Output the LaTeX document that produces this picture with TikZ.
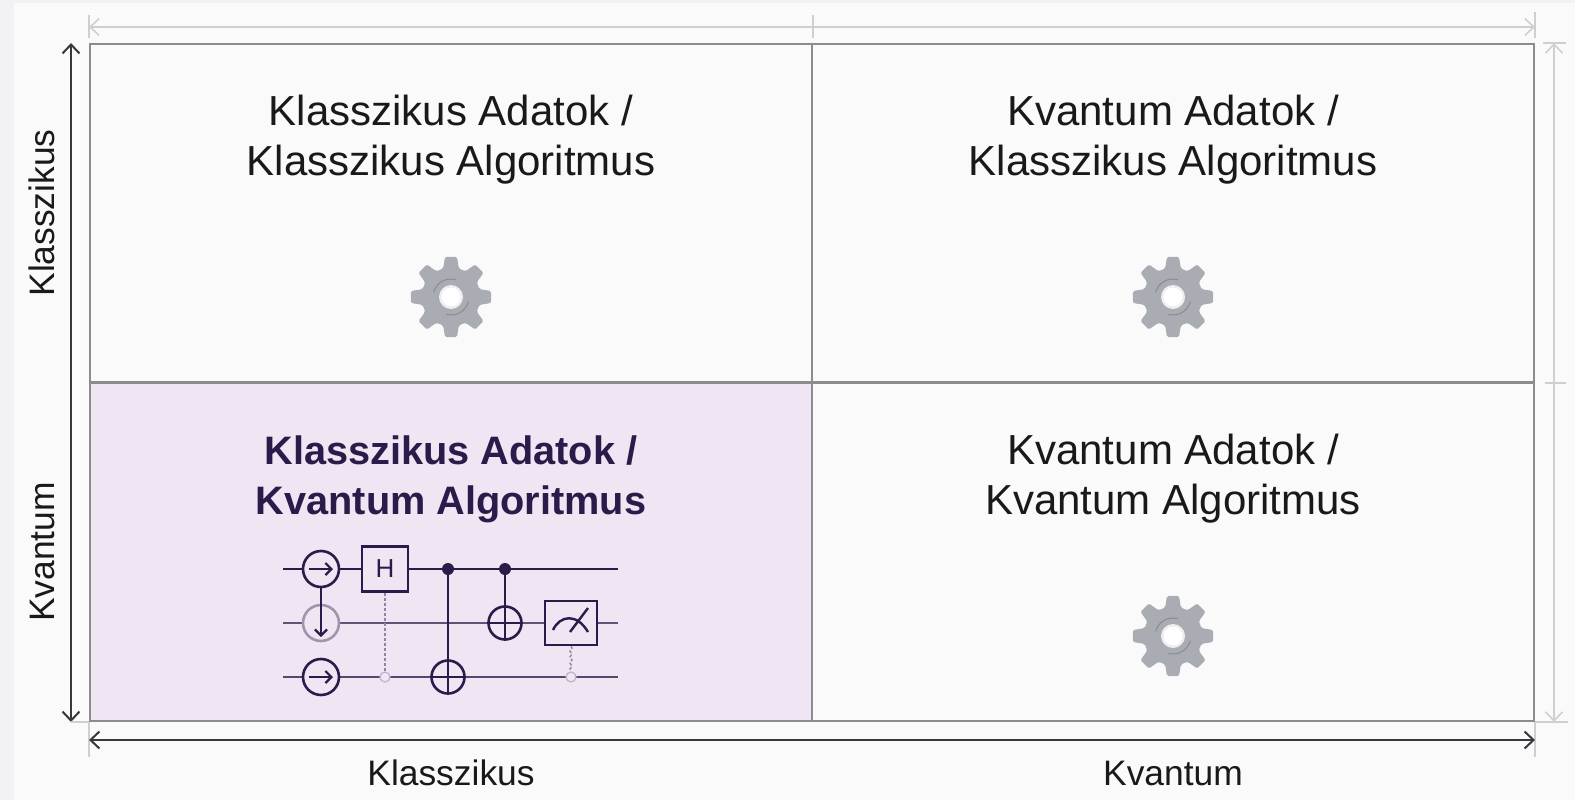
\documentclass[tikz,border=0pt]{standalone}
\usepackage{fontspec}
\setmainfont{Liberation Sans}
\usetikzlibrary{arrows.meta, decorations.pathmorphing}

\definecolor{pagebg}{HTML}{FAFAFB}
\definecolor{stripbg}{HTML}{F2F2F4}
\definecolor{gridgray}{HTML}{8B8B90}
\definecolor{tickgray}{HTML}{CFCFD3}
\definecolor{axisdark}{HTML}{38383C}
\definecolor{quantumbg}{HTML}{F0E6F3}
\definecolor{quantumink}{HTML}{2B1A4A}
\definecolor{gategray}{HTML}{A9ACB3}
\definecolor{ghostgray}{HTML}{BDB2C8}

\begin{document}
\begin{tikzpicture}[
    x=1pt, y=-1pt,
    cell/.style={rectangle, draw=gridgray, line width=2pt, fill=pagebg,
        minimum width=722pt, minimum height=338pt, inner sep=0pt},
    qcell/.style={cell, fill=quantumbg},
    celltext/.style={align=center, font=\fontsize{42}{50}\selectfont, text=black!90},
    qtext/.style={celltext, font=\fontsize{39.7}{50}\selectfont\bfseries, text=quantumink},
    axistext/.style={font=\fontsize{35.4}{40}\selectfont, text=black!90},
    darkaxis/.style={draw=axisdark, line width=2pt, {Straight Barb[length=9pt,width=17pt]}-{Straight Barb[length=9pt,width=17pt]}},
    lightaxis/.style={draw=tickgray, line width=1.6pt, {Straight Barb[length=9pt,width=17pt]}-{Straight Barb[length=9pt,width=17pt]}},
    tick/.style={draw=tickgray, line width=1.4pt},
    wire/.style={draw=quantumink, line width=2pt},
    gatering/.style={circle, draw=quantumink, line width=2.6pt, fill=quantumbg,
        minimum size=36pt, inner sep=0pt},
    fadering/.style={gatering, draw=ghostgray!80!quantumink},
    xorring/.style={gatering, minimum size=33pt},
    ctrldot/.style={circle, fill=quantumink, minimum size=12pt, inner sep=0pt},
    ghostdot/.style={circle, draw=ghostgray, fill=quantumbg, line width=1.2pt,
        minimum size=10pt, inner sep=0pt},
    boxgate/.style={rectangle, draw=quantumink, line width=2.4pt, fill=quantumbg,
        inner sep=0pt},
    gatearrow/.style={draw=quantumink, line width=2.2pt, -{Straight Barb[length=6pt,width=12pt]}},
    gear/.pic={
        \fill[gategray, rounded corners=1.5pt] (-22.5:29)
            \foreach \a in {0,45,...,315} {
                -- (\a-15:30) -- (\a-8.5:40.5) -- (\a+8.5:40.5) -- (\a+15:30) -- (\a+22.5:29)
            } -- cycle;
        \draw[gategray!80!black, line width=1pt] (195:18) arc (195:285:18);
        \draw[gategray!80!black, line width=1pt] (15:18) arc (15:105:18);
        \fill[white!80!gategray] (0,0) circle (12);
        \fill[white] (0,0) circle (9.5);
    }
    ]

\useasboundingbox (0,0) rectangle (1575,800);
\fill[pagebg] (0,0) rectangle (1575,800);
\fill[stripbg] (0,0) rectangle (14,800);
\fill[stripbg] (0,0) rectangle (1575,3);

%Cells
\node[cell] (cellTL) at (451,213) {};
\node[cell] (cellTR) at (1173,213) {};
\node[qcell] (cellBL) at (451,552) {};
\node[cell] (cellBR) at (1173,552) {};

%Cell labels
\node[celltext] (textTL) at (451,140) {Klasszikus Adatok /\\Klasszikus Algoritmus};
\node[celltext] (textTR) at (1173,140) {Kvantum Adatok /\\Klasszikus Algoritmus};
\node[qtext] (textBL) at (451,479) {Klasszikus Adatok /\\Kvantum Algoritmus};
\node[celltext] (textBR) at (1173,479) {Kvantum Adatok /\\Kvantum Algoritmus};

%Gears
\pic at (451,297) {gear};
\pic at (1173,297) {gear};
\pic at (1173,636) {gear};

%Top axis
\draw[lightaxis] (cellTL.north west |- 0,27) coordinate (topL) -- (cellTR.north east |- 0,27) coordinate (topR);
\draw[tick] (cellTL.north west |- 0,15) -- (cellTL.north west |- 0,38);
\draw[tick] (cellTL.north east |- 0,15) -- (cellTL.north east |- 0,38);
\draw[tick] (cellTR.north east |- 0,12) -- (cellTR.north east |- 0,38);

%Right axis
\draw[lightaxis] (1554,0 |- cellTR.north east) -- (1554,0 |- cellBR.south east);
\draw[tick] (1543,0 |- cellTR.north east) -- (1566,0 |- cellTR.north east);
\draw[tick] (1545,0 |- cellTR.south east) -- (1566,0 |- cellTR.south east);
\draw[tick] (cellBR.south east) -- (1568,0 |- cellBR.south east);

%Left axis
\draw[darkaxis] (71,0 |- cellTL.north west) -- (71,0 |- cellBL.south west);
\draw[tick] (71,0 |- cellBL.south west) -- (cellBL.south west);
\node[axistext, rotate=90] (axisClassY) at (42,213) {Klasszikus};
\node[axistext, rotate=90] (axisQuantY) at (42,552) {Kvantum};

%Bottom axis
\draw[tick] (cellBL.south west) -- (cellBL.south west |- 0,757);
\draw[tick] (cellBR.south east) -- (cellBR.south east |- 0,757);
\draw[darkaxis] (cellBL.south west |- 0,740) -- (cellBR.south east |- 0,740);
\node[axistext] (axisClassX) at (451,773) {Klasszikus};
\node[axistext] (axisQuantX) at (1173,773) {Kvantum};

%Wires
\coordinate (wireAin) at (283,569);
\coordinate (wireAout) at (618,569);
\coordinate (wireBin) at (283,623);
\coordinate (wireBout) at (618,623);
\coordinate (wireCin) at (283,677);
\coordinate (wireCout) at (618,677);
\draw[wire] (wireAin) -- (wireAout);
\draw[wire, draw=quantumink!75] (wireBin) -- (wireBout);
\draw[wire, draw=quantumink!80] (wireCin) -- (wireCout);

%Lower qubit links
\node[boxgate, minimum width=46pt, minimum height=45pt, font=\fontsize{26}{26}\selectfont, text=quantumink] (gateH) at (385,569) {H};
\node[boxgate, minimum width=52pt, minimum height=44pt] (gateM) at (571,623) {};
\node[ghostdot] (ghostH) at (385,677) {};
\node[ghostdot] (ghostM) at (571,677) {};
\draw[draw=ghostgray!70!quantumink, line width=1.4pt, densely dashed] (gateH.south) -- (ghostH.north);
\draw[draw=ghostgray!70!quantumink, line width=1.4pt, densely dashed,
    decorate, decoration={snake, amplitude=1pt, segment length=6pt}] (gateM.south) -- (ghostM.north);

%Ring gates
\node[gatering] (ringA) at (321,569) {};
\node[fadering] (ringB) at (321,623) {};
\node[gatering] (ringC) at (321,677) {};
\draw[gatearrow] ([xshift=-12pt]ringA.center) -- ([xshift=12pt]ringA.center);
\draw[gatearrow] ([xshift=-12pt]ringC.center) -- ([xshift=12pt]ringC.center);
\draw[gatearrow] (ringA.south) -- ([yshift=-14pt]ringB.center);

%Controlled gates
\node[xorring] (xorC) at (448,677) {};
\node[xorring] (xorB) at (505,623) {};
\node[ctrldot] (ctrlA) at (448,569) {};
\node[ctrldot] (ctrlB) at (505,569) {};
\draw[wire] (ctrlA) -- (xorC.south);
\draw[wire] (ctrlB) -- (xorB.south);
\draw[wire] (xorC.west) -- (xorC.east);
\draw[wire] (xorB.west) -- (xorB.east);

%Meter
\draw[wire, line width=2.4pt] ([shift={(-18pt,-7pt)}]gateM.center) .. controls ([shift={(-11pt,8pt)}]gateM.center) and ([shift={(6pt,10pt)}]gateM.center) .. ([shift={(17pt,-9pt)}]gateM.center);
\draw[wire, line width=2.4pt] ([shift={(-1pt,-9pt)}]gateM.center) -- ([shift={(17pt,15pt)}]gateM.center);

\end{tikzpicture}
\end{document}
